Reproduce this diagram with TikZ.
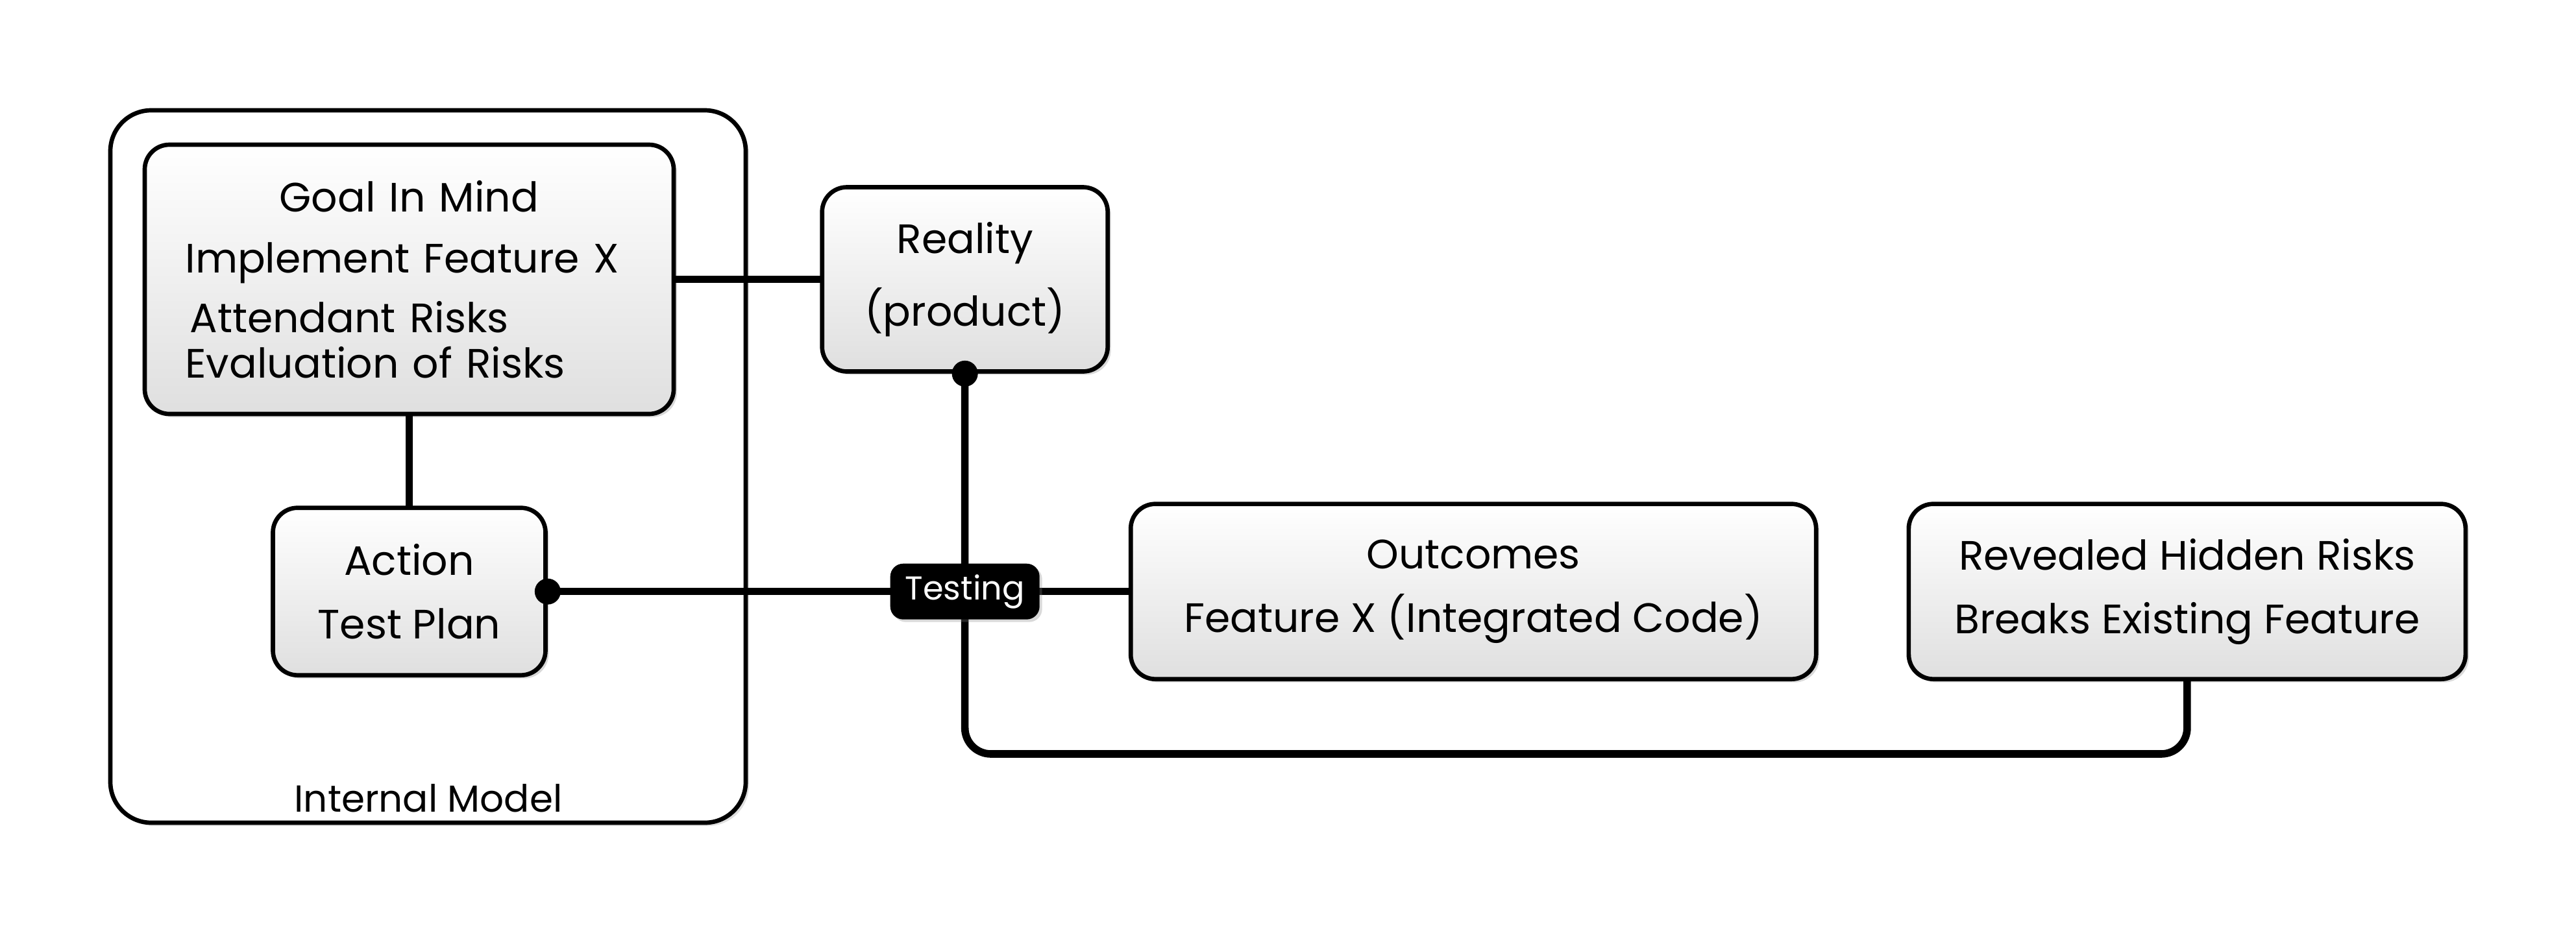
\documentclass[tikz,border=0pt]{standalone}
\usepackage{fontspec}
\setmainfont{Poppins}
\usepackage{tikz}
\usetikzlibrary{positioning}
\usetikzlibrary{shadows}
\tikzstyle{step box}=[draw, line width=1.9pt, rounded corners=0.38cm, align=center,
  top color=white, bottom color=gray!25,
  drop shadow={shadow xshift=0.05cm, shadow yshift=-0.05cm, opacity=0.3},
  font=\fontsize{18}{28}\selectfont]
\tikzstyle{link edge}=[line width=3.3pt, line cap=round]
\tikzstyle{link dot}=[fill=black]
\newcommand{\stepnode}[3][]{
  \node [step box, #1] (#2) {#3}
}

\begin{document}
\begin{tikzpicture}[node distance=1cm]
  \useasboundingbox (0,0) rectangle (39.69,-14.37);
  \node [draw, line width=1.9pt, rounded corners=0.63cm, fill=white,
    drop shadow={shadow xshift=0.05cm, shadow yshift=-0.05cm, opacity=0.25},
    minimum width=9.79cm, minimum height=10.98cm] (model) at (6.595,-7.19) {};
  \node [font=\fontsize{16.5}{20}\selectfont] (modellabel) at (6.60,-12.30) {Internal Model};

  \stepnode[minimum width=8.15cm, minimum height=4.15cm, align=left, text width=6.9cm,
    at={(6.305,-4.305)}]{goal}{\makebox[\linewidth][c]{Goal In Mind}\\[-1pt]
      Implement Feature X\\[-2pt] \hspace*{2pt}Attendant Risks\\[-8pt] Evaluation of Risks};
  \stepnode[minimum width=4.20cm, minimum height=2.58cm, below=1.38cm of goal]{action}{Action\\Test Plan};
  \stepnode[minimum width=4.40cm, minimum height=2.84cm, right=2.22cm of goal, font=\fontsize{18}{32}\selectfont]{reality}{Reality\\(product)};
  \stepnode[minimum width=10.56cm, minimum height=2.70cm, right=8.95cm of action]{outc}{Outcomes\\Feature X (Integrated Code)};
  \stepnode[minimum width=8.58cm, minimum height=2.70cm, right=1.36cm of outc]{hidden}{Revealed Hidden Risks\\Breaks Existing Feature};

  \coordinate (loop) at (hidden.south |- 0,-11.62);
  \draw[link edge] (goal.east |- reality.west) -- (reality.west);
  \draw[link edge] (goal) -- (action);
  \draw[link edge] (action.east) -- (outc.west);
  \draw[link edge, rounded corners=0.4cm] (reality.south) |- (loop) -- (hidden.south);
  \fill[link dot] (reality.south) circle (0.2);
  \fill[link dot] (action.east) circle (0.2);

  \node [fill=black, text=white, rounded corners=0.2cm, minimum width=2.3cm, minimum height=0.86cm,
    drop shadow={shadow xshift=0.04cm, shadow yshift=-0.04cm, opacity=0.3},
    font=\fontsize{14.5}{16}\selectfont] (testing) at (reality |- action) {Testing};
\end{tikzpicture}
\end{document}
